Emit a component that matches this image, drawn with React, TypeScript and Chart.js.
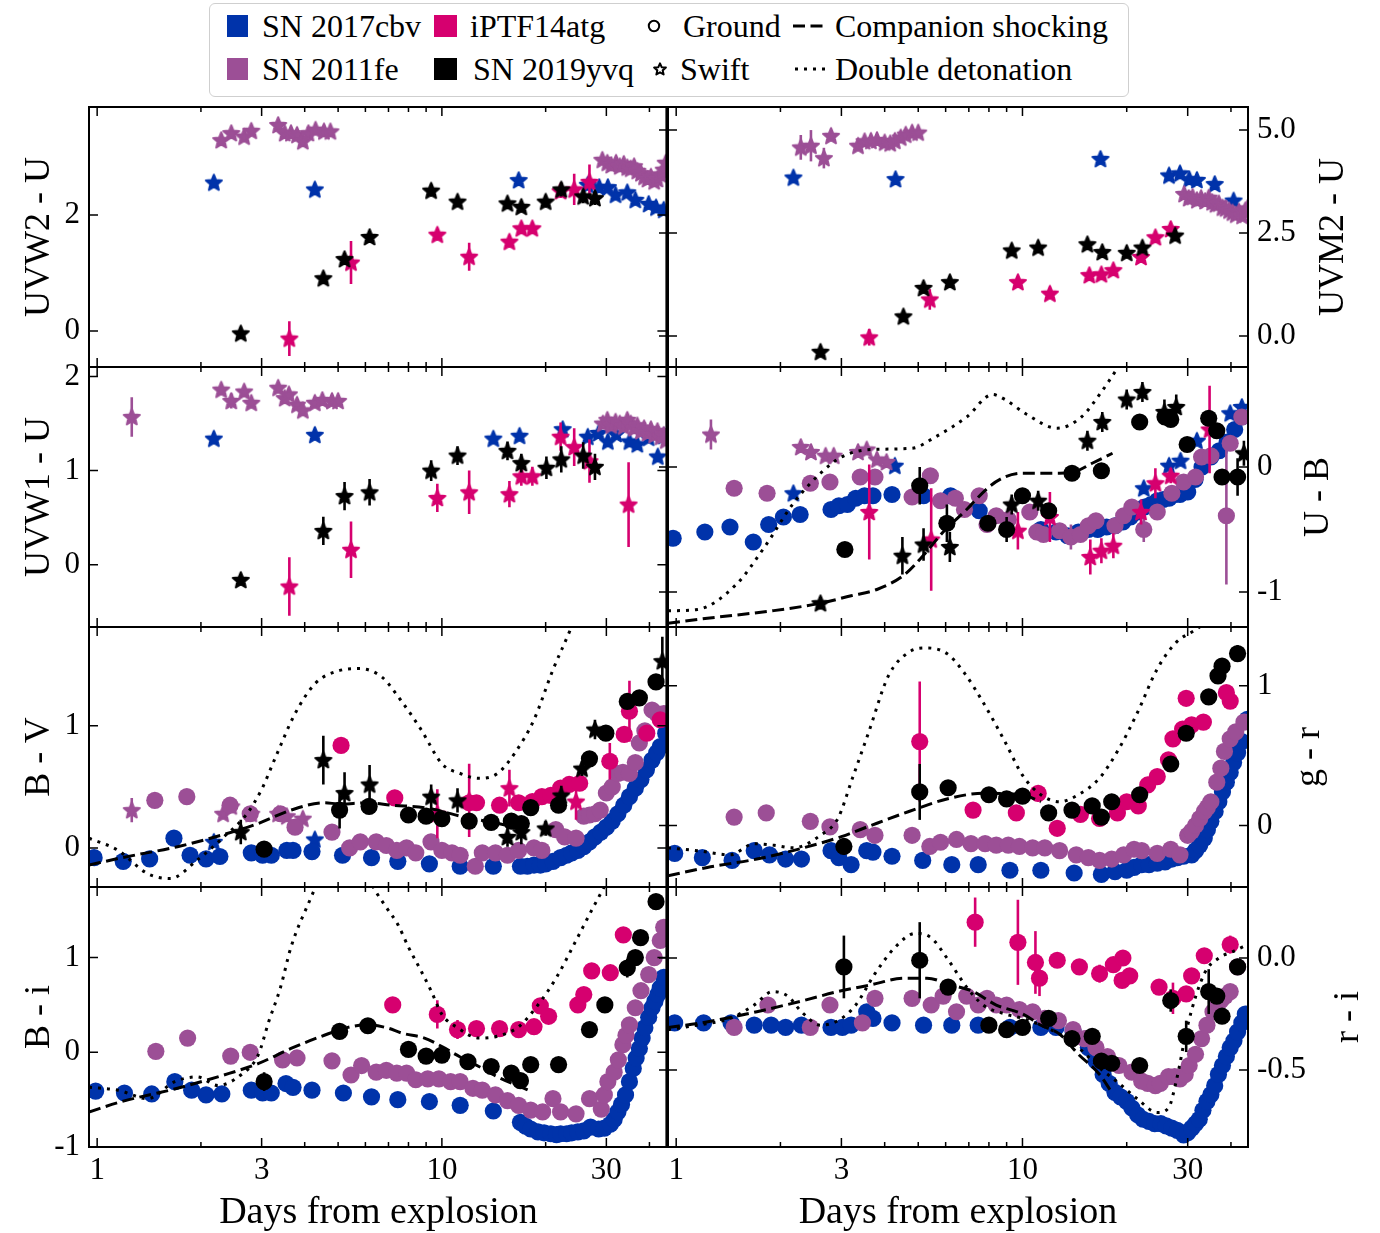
import React, { useEffect, useRef } from 'react';
import { Chart, registerables } from 'chart.js';

Chart.register(...registerables);

const FONT = '"Liberation Serif", "Times New Roman", Times, serif';
const COL_CBV = '#0033aa';
const COL_FE = '#9c4f96';
const COL_ATG = '#d6006f';
const COL_YVQ = '#000000';

const X_MIN = 0.947;
const X_MAX = 44.8;
const X_TICKS = [1, 3, 10, 30];
const X_TICK_LABELS = ['1', '3', '10', '30'];
const X_MINOR = [2, 4, 5, 6, 7, 8, 9, 20, 40];

// ---------- UVW2 - U (Swift) ----------
const W2_CBV_SW = [[2.18,2.56],[4.28,2.44],[16.7,2.6],[26.5,2.52],[28.6,2.48],[30.3,2.48],[31.9,2.35],[34.5,2.39],[36.4,2.26],[39.8,2.19],[41.8,2.13],[44,2.09]];
const W2_FE_SW = [[2.29,3.29],[2.45,3.41],[2.67,3.35],[2.8,3.45],[3.35,3.55],[3.5,3.41],[3.65,3.41],[3.8,3.38],[3.95,3.27],[4.1,3.41],[4.3,3.47],[4.55,3.44],[4.75,3.44],[29.2,2.95],[30.2,2.9],[31,2.86],[32,2.9],[32.8,2.84],[33.7,2.88],[34.5,2.82],[35.3,2.8],[36.1,2.84],[36.9,2.76],[37.8,2.72],[38.6,2.66],[39.5,2.62],[40.4,2.66],[41.3,2.58],[42.2,2.62],[43.1,2.7],[44,2.78],[44.6,2.9]];
const W2_ATG_SW = [[3.61,-0.13,0.3],[5.45,1.18,0.37],[9.7,1.66,0.1],[12,1.28,0.24],[15.7,1.54,0.1],[17,1.77,0.06],[18.3,1.77,0.06],[22.1,2.41,0.12],[24.2,2.44,0.27],[26.8,2.57,0.3]];
const W2_YVQ_SW = [[2.61,-0.04,0.05],[4.53,0.91,0.1],[5.22,1.24,0.1],[6.17,1.62,0.1],[9.31,2.42,0.1],[11.1,2.23,0.06],[15.5,2.2,0.06],[17,2.14,0.06],[20,2.23,0.1],[22.2,2.44,0.12],[25.7,2.32,0.12],[27.8,2.29,0.12]];

// ---------- UVM2 - U (Swift) ----------
const M2_CBV_SW = [[2.18,3.85],[4.3,3.81],[16.8,4.3],[26.5,3.9],[28.5,3.95],[30.3,3.81],[31.9,3.79],[35.9,3.69],[40.7,3.29]];
const M2_FE_SW = [[2.29,4.58,0.3],[2.45,4.62,0.38],[2.67,4.32,0.25],[2.8,4.86,0.1],[3.35,4.62],[3.5,4.73],[3.65,4.74],[3.8,4.76],[4.0,4.7],[4.15,4.68],[4.28,4.74],[4.45,4.82],[4.6,4.89],[4.8,4.94],[5.0,4.94],[29.3,3.45],[30.2,3.35],[31,3.38],[31.9,3.3],[32.8,3.35],[33.7,3.28],[34.5,3.36],[35.3,3.25],[36.1,3.2],[36.9,3.22],[37.8,3.12],[38.6,3.1],[39.5,3.05],[40.4,3.0],[41.3,2.95],[42.2,3.02],[43.1,2.92],[44,3.05],[44.6,3.1]];
const M2_ATG_SW = [[3.61,-0.03,0.2],[5.4,0.89,0.25],[9.7,1.31,0.08],[12,1.03,0.1],[15.6,1.48,0.06],[16.9,1.5,0.06],[18.3,1.6,0.06],[22,1.92,0.08],[24.2,2.4,0.1],[26.8,2.6,0.15]];
const M2_YVQ_SW = [[2.61,-0.38,0.05],[4.53,0.48,0.06],[5.18,1.17,0.06],[6.17,1.31,0.06],[9.31,2.08,0.06],[11.1,2.15,0.06],[15.4,2.23,0.06],[17,2.04,0.06],[20,2.02,0.06],[22.2,2.15,0.08],[27.6,2.44,0.12]];

// ---------- UVW1 - U (Swift) ----------
const W1_CBV_SW = [[2.18,1.34],[4.28,1.38],[14.1,1.34],[16.8,1.37],[22.4,1.44],[26.5,1.36],[28.5,1.4],[30.3,1.31],[32,1.39],[35,1.31],[36.9,1.28],[39.8,1.35],[42.3,1.15],[44,1.37]];
const W1_FE_SW = [[1.26,1.57,0.21],[2.29,1.86],[2.45,1.74,0.08],[2.67,1.84],[2.8,1.72],[3.35,1.88],[3.5,1.77],[3.6,1.81],[3.8,1.7],[3.95,1.64],[4.28,1.72],[4.5,1.75],[4.8,1.74],[5.0,1.74],[29.3,1.5],[30.2,1.54],[31,1.48],[31.9,1.52],[32.8,1.5],[33.7,1.47],[34.5,1.54],[35.3,1.5],[36.1,1.45],[36.9,1.48],[37.8,1.42],[38.6,1.45],[39.5,1.4],[40.4,1.44],[41.3,1.38],[42.2,1.42],[43.1,1.36],[44,1.38],[44.6,1.32]];
const W1_ATG_SW = [[3.61,-0.23,0.31],[5.45,0.16,0.3],[9.7,0.71,0.15],[12,0.77,0.23],[15.7,0.75,0.14],[17,0.94,0.1],[18.3,0.94,0.1],[22.1,1.36,0.15],[24.2,1.25,0.2],[26.8,1.1,0.23],[34.8,0.64,0.45]];
const W1_YVQ_SW = [[2.61,-0.16,0.05],[4.53,0.36,0.15],[5.22,0.73,0.15],[6.17,0.77,0.14],[9.31,1.0,0.11],[11.1,1.16,0.1],[15.5,1.21,0.1],[17,1.08,0.1],[20.1,1.03,0.12],[22.2,1.12,0.14],[25.7,1.16,0.14],[27.8,1.04,0.14]];

// ---------- U - B ----------
const UB_CBV_GR = [[0.98,-0.57],[1.21,-0.52],[1.43,-0.48],[1.67,-0.6],[1.85,-0.46],[2.04,-0.4],[2.28,-0.38],[2.8,-0.34],[2.95,-0.31],[3.12,-0.3],[3.3,-0.25],[3.5,-0.23],[3.7,-0.23],[4.2,-0.22],[5.18,-0.23],[6.2,-0.23],[7.5,-0.35],[11.3,-0.5],[12.5,-0.52],[13.5,-0.55],[14.5,-0.52],[15.5,-0.5],[16.5,-0.5],[17.5,-0.48],[18.5,-0.47],[19.5,-0.44],[20.5,-0.4],[21.5,-0.36],[22.5,-0.32],[23.5,-0.3],[24.5,-0.27],[25.5,-0.26],[26.5,-0.25],[27.5,-0.22],[28.5,-0.22],[30,-0.2],[31.5,-0.1],[33,0.0],[35,0.08],[37,0.13],[39,0.2],[41,0.3],[43,0.4]];
const UB_CBV_SW = [[2.18,-0.21],[4.28,0.01],[22.4,-0.17],[26.5,0.01],[28.6,0.05],[31.9,0.21],[39.8,0.43],[43,0.48]];
const UB_FE_GR = [[1.47,-0.17,0.05],[1.83,-0.21],[2.44,-0.13],[2.78,-0.12],[3.4,-0.08],[3.75,-0.08],[4.8,-0.24],[5.42,-0.07],[5.8,-0.27],[6.4,-0.25],[6.8,-0.34],[7.5,-0.23],[7.9,-0.46],[8.4,-0.39],[9.1,-0.42],[10.5,-0.36],[11,-0.52],[11.5,-0.54],[12.8,-0.51],[13.8,-0.56,0.1],[14.7,-0.54],[15.5,-0.47],[16.3,-0.43],[18.5,-0.47],[19.6,-0.39],[20.7,-0.32],[22.4,-0.5,0.1],[24.5,-0.36],[27,-0.21],[29.2,-0.12],[31.6,-0.08],[32.9,0.08],[35,0.09],[38.8,-0.39,0.55],[39.8,0.19],[43,0.4]];
const UB_FE_SW = [[1.26,0.26,0.12],[2.29,0.16],[2.45,0.12],[2.7,0.09],[2.85,0.09],[3.35,0.12],[3.55,0.14],[3.8,0.06],[4.05,0.04]];
const UB_ATG_SW = [[3.61,-0.36,0.38],[5.45,-0.58,0.41],[9.7,-0.51,0.15],[12,-0.4,0.2],[15.7,-0.72,0.14],[16.9,-0.67,0.1],[18.3,-0.63,0.1],[22,-0.36,0.1],[24.2,-0.13,0.12],[26.8,-0.07,0.06],[34.7,0.3,0.35]];
const UB_YVQ_GR = [[3.07,-0.66],[5.05,-0.15,0.15],[6.05,-0.45,0.15],[7.95,-0.45],[9.0,-0.5,0.1],[10,-0.23],[11.9,-0.35],[13.9,-0.05],[16.9,-0.03],[21.8,0.36],[25.8,0.4],[26.8,0.38],[29.9,0.18],[34.5,0.39],[36.4,0.29],[37.7,-0.08],[41.8,-0.08,0.15]];
const UB_YVQ_SW = [[2.61,-1.09,0.05],[4.5,-0.71,0.15],[5.18,-0.62,0.13],[6.17,-0.64,0.12],[9.31,-0.3,0.08],[11.1,-0.27,0.08],[15.4,0.21,0.08],[17,0.36,0.08],[20,0.54,0.08],[22.2,0.6,0.08],[25.7,0.44,0.1],[27.8,0.48,0.1],[43.6,0.11,0.1]];
const UB_COMPANION = [[0.947,-1.25],[1.23,-1.21],[1.9,-1.15],[2.61,-1.09],[3.2,-1.03],[3.8,-0.98],[4.57,-0.86],[5.2,-0.7],[5.9,-0.52],[6.9,-0.34],[8.0,-0.16],[8.9,-0.08],[10,-0.05],[11.3,-0.05],[12.8,-0.05],[14.4,-0.03],[15.9,0.03],[18.2,0.11]];
const UB_DOUBLE = [[0.947,-1.15],[1.15,-1.14],[1.49,-0.94],[1.8,-0.64],[2.18,-0.29],[2.61,-0.05],[3.0,0.08],[3.65,0.14],[4.8,0.15],[5.6,0.24],[6.9,0.4],[8.2,0.58],[8.9,0.54],[10.3,0.42],[12.6,0.31],[14.8,0.4],[16.8,0.59],[18.8,0.79],[21,1.0]];

// ---------- B - V ----------
const BV_CBV_GR = [[0.98,-0.08],[1.19,-0.11],[1.42,-0.09],[1.67,0.08],[1.86,-0.06],[2.07,-0.09],[2.27,-0.07],[2.8,-0.04],[3.02,-0.06],[3.2,-0.06],[3.55,-0.02],[3.7,-0.02],[4.2,-0.03],[5.15,-0.06],[6.25,-0.08],[7.45,-0.11],[9.2,-0.13],[11.3,-0.15],[14.1,-0.15],[16.9,-0.15],[17.7,-0.15],[18.5,-0.14],[19.3,-0.14],[20,-0.13],[21,-0.11],[22.1,-0.08],[23,-0.06],[23.8,-0.04],[24.8,-0.02],[25.8,0.01],[26.8,0.05],[27.8,0.09],[28.9,0.13],[30,0.17],[31.2,0.22],[32.4,0.28],[33.7,0.35],[35,0.42],[36.4,0.49],[37.8,0.56],[39.2,0.64],[40.7,0.72],[42,0.78],[43,0.83],[44.6,0.94]];
const BV_CBV_SW = [[2.18,0.05],[4.28,0.07]];
const BV_FE_GR = [[1.47,0.39],[1.82,0.42],[2.43,0.35],[2.78,0.28],[3.4,0.28],[3.75,0.17],[4.8,0.13],[5.4,0.0],[5.8,0.05],[6.45,0.05],[6.9,0.02],[7.4,-0.02],[7.9,0.0],[8.4,-0.04],[9.3,0.05],[10,-0.02],[10.7,-0.04],[11.3,-0.06],[12.5,-0.15],[13.1,-0.04],[14.3,-0.04],[15.5,-0.06],[16.7,-0.02],[18.5,0.0],[19.5,-0.02],[21.4,0.15],[22.7,0.09],[24.5,0.08],[25.8,0.26],[26.8,0.27],[27.8,0.28],[28.8,0.31],[30,0.45],[31.2,0.5],[32.4,0.61],[33.5,0.62],[35,0.61],[36.4,0.7],[37.4,0.86],[38.8,0.96],[40.7,1.13],[42,1.1],[44,1.1]];
const BV_FE_SW = [[1.26,0.31,0.1],[2.32,0.28],[2.45,0.34],[2.8,0.28],[3.35,0.28],[3.55,0.26],[3.95,0.24]];
const BV_ATG_GR = [[5.1,0.84],[7.3,0.41],[12,0.37],[12.6,0.37],[14.7,0.35],[16.7,0.37],[18.3,0.38],[19.5,0.42],[20.7,0.43],[22.1,0.49],[23.4,0.52],[25.1,0.53],[30.7,0.71,0.15],[33.8,0.93],[35,1.12,0.25],[39.3,0.94],[43,1.05]];
const BV_ATG_SW = [[9.7,0.28,0.2],[12,0.39,0.3],[15.7,0.49,0.15],[24.5,0.38,0.15]];
const BV_YVQ_GR = [[3.05,-0.01],[5.05,0.31,0.15],[6.15,0.34],[8.0,0.27],[9.0,0.26],[10,0.24],[12,0.22],[13.9,0.21],[15.9,0.22],[17,0.2],[18.1,0.33],[21.8,0.35],[26.8,0.73],[29.9,0.94],[34.5,1.2],[37.4,1.23],[41.8,1.36]];
const BV_YVQ_SW = [[2.61,0.13,0.1],[4.53,0.72,0.2],[5.22,0.45,0.17],[6.17,0.52,0.16],[9.31,0.42,0.1],[11.1,0.39,0.1],[15.5,0.09,0.08],[17,0.13,0.1],[20,0.16,0.06],[22.2,0.43,0.08],[25.5,0.65,0.06],[27.8,0.97,0.08],[43.6,1.53,0.2]];
const BV_COMPANION = [[0.947,-0.14],[1.18,-0.08],[1.71,0.01],[2.33,0.11],[2.93,0.2],[3.65,0.31],[4.56,0.37],[5.05,0.36],[6.05,0.37],[7.2,0.35],[8.9,0.33],[10,0.3],[11.3,0.26],[14,0.21],[16.3,0.17]];
const BV_DOUBLE = [[0.947,0.08],[1.15,-0.02],[1.4,-0.21],[1.63,-0.25],[1.95,-0.1],[2.33,0.09],[2.72,0.28],[3.0,0.48],[3.3,0.75],[3.75,1.1],[4.3,1.35],[5.0,1.45],[5.75,1.47],[6.7,1.4],[7.6,1.21],[8.7,0.97],[10,0.69],[11.3,0.61],[12.8,0.57],[14.5,0.61],[16.3,0.78],[18.5,1.05],[21,1.46],[23.6,1.79],[26,2.1]];

// ---------- g - r ----------
const GR_CBV_GR = [[0.99,-0.2],[1.19,-0.23],[1.45,-0.25],[1.68,-0.18],[1.86,-0.21],[2.07,-0.24],[2.3,-0.24],[2.8,-0.18],[2.95,-0.23],[3.2,-0.28],[3.55,-0.18],[3.7,-0.19],[4.2,-0.22],[5.15,-0.25],[6.25,-0.28],[7.45,-0.28],[9.2,-0.32],[11.3,-0.32],[14.1,-0.34],[16.9,-0.35],[18.5,-0.33],[20,-0.32],[21,-0.3],[22.1,-0.28],[23.2,-0.28],[24.5,-0.27],[25.8,-0.26],[27,-0.24],[28,-0.23],[29.2,-0.22],[30.8,-0.21],[31.6,-0.18],[32.5,-0.14],[33.5,-0.09],[34.2,-0.03],[35,0.03],[36,0.1],[36.9,0.17],[37.8,0.24],[38.8,0.31],[39.8,0.38],[40.7,0.45],[41.8,0.52],[43,0.6],[44.6,0.76]];
const GR_FE_GR = [[1.47,0.06],[1.82,0.09],[2.44,0.03],[2.78,-0.01],[3.4,-0.03],[3.75,-0.07],[4.8,-0.07],[5.4,-0.15],[5.8,-0.12],[6.45,-0.1],[7.1,-0.13],[7.8,-0.13],[8.4,-0.14],[9.1,-0.14],[9.8,-0.15],[10.7,-0.16],[11.6,-0.16],[12.8,-0.18],[14.3,-0.21],[15.5,-0.23],[16.7,-0.25],[18.1,-0.24],[19.6,-0.21],[21,-0.17],[22.1,-0.18],[24.5,-0.2],[26.8,-0.17],[28.5,-0.21],[30,-0.07],[30.8,-0.04],[31.6,0.0],[32.5,0.05],[33.5,0.1],[34.2,0.13],[35,0.17],[36.4,0.31],[37.4,0.41],[38.3,0.53],[39.8,0.62],[41.3,0.67],[43.6,0.74]];
const GR_ATG_GR = [[5.05,0.6,0.43],[7.2,0.11],[9.6,0.09],[11.1,0.23,0.06],[12.6,-0.02],[14.7,0.08],[16.7,0.05],[18.8,0.09],[20,0.17],[21.6,0.14],[23,0.29],[24.5,0.35],[26.4,0.47],[27.2,0.62],[29,0.69],[29.7,0.91],[30.8,0.72],[33.3,0.74],[38.8,0.95],[39.8,0.89]];
const GR_YVQ_GR = [[3.05,-0.15,0.06],[5.05,0.24,0.2],[6.1,0.27],[8.0,0.22],[9.0,0.19],[10,0.21],[11.9,0.09],[13.9,0.11],[15.9,0.14],[16.9,0.06],[18.1,0.17],[21.8,0.22],[26.8,0.44],[29.7,0.66],[34.5,0.92],[36.7,1.07],[37.7,1.14],[41.8,1.23,0.06]];
const GR_COMPANION = [[0.947,-0.36],[1.23,-0.3],[1.71,-0.24],[2.33,-0.16],[3.0,-0.08],[3.65,0.0],[4.7,0.1],[6.05,0.19],[7.7,0.23],[10,0.22],[11.3,0.17]];
const GR_DOUBLE = [[0.947,-0.16],[1.15,-0.18],[1.43,-0.21],[1.68,-0.13],[1.9,-0.14],[2.18,-0.16],[2.61,-0.07],[2.93,0.05],[3.23,0.34],[3.6,0.67],[4.1,1.07],[4.7,1.24],[5.3,1.27],[6.05,1.23],[6.8,1.09],[7.7,0.88],[8.9,0.6],[10,0.36],[11.3,0.22],[12.8,0.17],[14.5,0.22],[16.7,0.34],[19,0.55],[21.5,0.81],[24.5,1.12],[27.8,1.31],[31.6,1.4],[36,1.5]];

// ---------- B - i ----------
const BI_CBV_GR = [[0.99,-0.41],[1.2,-0.43],[1.44,-0.44],[1.68,-0.31],[1.88,-0.4],[2.07,-0.45],[2.3,-0.44],[2.8,-0.4],[3.02,-0.43],[3.2,-0.43],[3.53,-0.33],[3.7,-0.37],[4.2,-0.4],[5.18,-0.43],[6.25,-0.47],[7.45,-0.5],[9.2,-0.52],[11.3,-0.56],[14.1,-0.62],[16.9,-0.74],[17.5,-0.78],[18.1,-0.81],[19,-0.84],[19.8,-0.85],[20.7,-0.86],[21.5,-0.87],[22.1,-0.86],[23,-0.86],[23.8,-0.85],[24.8,-0.84],[25.8,-0.83],[27,-0.79],[28.5,-0.81],[29.6,-0.8],[30.8,-0.76],[31.6,-0.71],[32.4,-0.63],[33.2,-0.55],[34.1,-0.45],[35,-0.31],[35.9,-0.17],[36.6,-0.06],[37.4,0.04],[38.1,0.15],[38.8,0.26],[39.8,0.37],[40.7,0.47],[41.5,0.54],[42.3,0.61],[43,0.68],[44,0.79]];
const BI_FE_GR = [[1.48,0.01],[1.83,0.15],[2.44,-0.04],[2.78,0.0],[3.45,-0.08],[3.8,-0.06],[4.8,-0.09],[5.45,-0.24],[5.85,-0.14],[6.45,-0.21],[6.9,-0.19],[7.4,-0.22],[7.9,-0.22],[8.4,-0.29],[9.1,-0.28],[9.8,-0.28],[10.6,-0.31],[11.3,-0.31],[12.3,-0.38],[13.1,-0.4],[14.3,-0.45],[15.5,-0.51],[16.7,-0.56],[18.1,-0.61],[19.6,-0.63],[21,-0.49],[22.1,-0.63],[24.5,-0.65],[26.8,-0.49],[29,-0.6],[29.6,-0.45],[30.3,-0.31],[31.6,-0.21],[32.5,-0.08],[33.5,0.08],[34.2,0.18],[35,0.29],[36.4,0.47],[37.8,0.65],[39.8,0.82],[41.3,1.0],[43,1.18],[44,1.32]];
const BI_ATG_GR = [[7.2,0.5],[9.7,0.4,0.15],[11.1,0.24,0.1],[12.6,0.25],[14.7,0.25],[16.7,0.24],[18.5,0.27],[19.3,0.49],[20.4,0.38],[24.8,0.5],[25.8,0.61],[27.2,0.86],[30.8,0.84],[33.6,1.24]];
const BI_YVQ_GR = [[3.05,-0.31,0.1],[5.05,0.22],[6.1,0.28],[8.0,0.03],[9.0,-0.04],[10,-0.03],[11.9,-0.1],[13.9,-0.15],[15.9,-0.22],[16.9,-0.3],[18.1,-0.13],[21.8,-0.13],[26.8,0.24],[29.7,0.5],[34.5,0.89,0.1],[36.4,1.0],[37.7,1.21],[41.8,1.59]];
const BI_COMPANION = [[0.947,-0.63],[1.18,-0.52],[1.71,-0.38],[2.33,-0.24],[2.93,-0.12],[3.65,0.04],[4.56,0.18],[5.3,0.26],[6.05,0.29],[6.9,0.26],[7.7,0.2],[8.9,0.15],[10,0.06],[11.3,-0.05],[12.8,-0.15],[14.5,-0.26],[17.8,-0.4]];
const BI_DOUBLE = [[0.947,-0.37],[1.15,-0.4],[1.4,-0.49],[1.68,-0.31],[1.95,-0.26],[2.24,-0.35],[2.61,-0.24],[2.93,-0.03],[3.15,0.33],[3.4,0.68],[3.65,1.11],[4.1,1.57],[4.6,1.95],[5.3,2.1],[6.0,1.9],[6.4,1.71],[6.9,1.53],[7.45,1.35],[8.0,1.11],[8.7,0.86],[9.3,0.65],[10,0.4],[11.1,0.26],[12.8,0.15],[14.5,0.17],[16.7,0.27],[19,0.5],[21.5,0.79],[24.5,1.18],[27.2,1.5],[29.5,1.74],[32,2.0]];

// ---------- r - i ----------
const RI_CBV_GR = [[0.99,-0.29],[1.2,-0.29],[1.44,-0.29],[1.68,-0.3],[1.88,-0.3],[2.07,-0.31],[2.3,-0.3],[2.8,-0.31],[3.02,-0.31],[3.2,-0.3],[3.55,-0.24],[3.7,-0.27],[4.2,-0.29],[5.18,-0.3],[6.25,-0.3],[7.45,-0.3],[9.2,-0.31],[11.3,-0.31],[12.5,-0.31],[14,-0.33],[15.5,-0.4],[16.3,-0.46],[17.1,-0.52],[17.8,-0.56],[18.5,-0.6],[19.2,-0.62],[20,-0.64],[20.7,-0.67],[21.5,-0.7],[22.3,-0.72],[23.2,-0.73],[24.1,-0.74],[25.1,-0.74],[26,-0.75],[27,-0.76],[28,-0.77],[29.2,-0.79],[30,-0.78],[30.8,-0.76],[31.6,-0.74],[32.4,-0.72],[33.2,-0.68],[34.1,-0.64],[35,-0.61],[35.9,-0.57],[36.8,-0.52],[37.8,-0.48],[38.8,-0.44],[39.8,-0.4],[40.8,-0.37],[41.8,-0.33],[43,-0.29],[44,-0.25]];
const RI_FE_GR = [[1.47,-0.31],[1.84,-0.21],[2.44,-0.31],[2.78,-0.21],[3.45,-0.29],[3.75,-0.18],[4.8,-0.18],[5.45,-0.21],[5.9,-0.17],[6.45,-0.24],[6.9,-0.17],[7.45,-0.21],[7.9,-0.18],[8.4,-0.21],[9.0,-0.21],[9.8,-0.23],[10.7,-0.24],[11.6,-0.27],[12.7,-0.28],[14,-0.32],[15.1,-0.36],[16.3,-0.4],[17.6,-0.44],[19,-0.48],[20.7,-0.51],[22.1,-0.55],[23,-0.56],[24.2,-0.57],[25,-0.56],[26.4,-0.53],[27.5,-0.53],[28.5,-0.54],[29.5,-0.52],[30.3,-0.48],[31.6,-0.43],[32.9,-0.36],[34.1,-0.3],[35.5,-0.24],[36.4,-0.22],[37.4,-0.19],[38.5,-0.17],[39.8,-0.15],[41.8,-0.04]];
const RI_ATG_GR = [[7.3,0.16,0.11],[9.7,0.07,0.19],[10.9,-0.02,0.14],[11.2,-0.09,0.08],[12.6,-0.01,0.03],[14.6,-0.04,0.03],[16.7,-0.07,0.04],[18.3,-0.03],[19.4,-0.1],[19.5,0.0],[20.4,-0.08],[24.8,-0.13],[27.2,-0.18,0.07],[29.7,-0.16],[30.8,-0.08],[33.5,0.01],[39.8,0.06,0.04]];
const RI_YVQ_GR = [[3.05,-0.04,0.14],[5.05,-0.01,0.17],[6.1,-0.13],[8.0,-0.3],[9.0,-0.32],[10,-0.31],[11.9,-0.27],[13.9,-0.36],[15.9,-0.35],[16.9,-0.46],[18.1,-0.47],[21.8,-0.48],[26.8,-0.19,0.05],[29.7,-0.35,0.07],[34.5,-0.15,0.1],[36.4,-0.17],[37.7,-0.26],[41.8,-0.04]];
const RI_COMPANION = [[0.947,-0.31],[1.18,-0.29],[1.71,-0.24],[2.33,-0.19],[2.93,-0.15],[3.65,-0.12],[4.56,-0.09],[5.3,-0.09],[6.2,-0.12],[7.2,-0.15],[8.4,-0.21],[10,-0.25],[11.3,-0.3],[12.8,-0.34],[14.5,-0.43],[16.7,-0.52],[18.1,-0.6]];
const RI_DOUBLE = [[0.947,-0.32],[1.15,-0.3],[1.43,-0.27],[1.68,-0.21],[1.9,-0.15],[2.1,-0.17],[2.3,-0.24],[2.61,-0.3],[2.93,-0.28],[3.3,-0.21],[3.75,-0.07],[4.3,0.05],[4.9,0.11],[5.45,0.09],[6.05,0.0],[6.9,-0.13],[7.7,-0.21],[8.9,-0.25],[10,-0.27],[11.3,-0.3],[12.8,-0.34],[14.5,-0.4],[16.7,-0.49],[19,-0.56],[21.5,-0.63],[24.5,-0.69],[26.4,-0.67],[27.8,-0.55],[30,-0.3],[33.5,-0.07],[36.9,0.0],[40.7,0.03],[44.6,0.06]];

type Kind = 'ground' | 'swift' | 'companion' | 'double';
type SeriesDef = [number[][], string, Kind];

const W2_TICKS = [0, 2]; const W2_LABELS = ['0', '2'];
const M2_TICKS = [0, 2.5, 5]; const M2_LABELS = ['0.0', '2.5', '5.0'];
const W1_TICKS = [0, 1, 2]; const W1_LABELS = ['0', '1', '2'];
const UB_TICKS = [-1, 0]; const UB_LABELS = ['-1', '0'];
const BV_TICKS = [0, 1]; const BV_LABELS = ['0', '1'];
const GR_TICKS = [0, 1]; const GR_LABELS = ['0', '1'];
const BI_TICKS = [-1, 0, 1]; const BI_LABELS = ['-1', '0', '1'];
const RI_TICKS = [-0.5, 0]; const RI_LABELS = ['-0.5', '0.0'];

interface PanelDef {
  key: string; row: number; col: number; yMin: number; yMax: number;
  yTicks: number[]; yLabels: string[]; title: string; titleX: number;
  series: SeriesDef[];
}

const PANELS: PanelDef[] = [
  { key: 'w2', row: 0, col: 0, yMin: -0.62, yMax: 3.86, yTicks: W2_TICKS, yLabels: W2_LABELS, title: 'UVW2 - U', titleX: 37,
    series: [[W2_CBV_SW, COL_CBV, 'swift'], [W2_FE_SW, COL_FE, 'swift'], [W2_ATG_SW, COL_ATG, 'swift'], [W2_YVQ_SW, COL_YVQ, 'swift']] },
  { key: 'm2', row: 0, col: 1, yMin: -0.75, yMax: 5.56, yTicks: M2_TICKS, yLabels: M2_LABELS, title: 'UVM2 - U', titleX: 1331,
    series: [[M2_CBV_SW, COL_CBV, 'swift'], [M2_FE_SW, COL_FE, 'swift'], [M2_ATG_SW, COL_ATG, 'swift'], [M2_YVQ_SW, COL_YVQ, 'swift']] },
  { key: 'w1', row: 1, col: 0, yMin: -0.66, yMax: 2.1, yTicks: W1_TICKS, yLabels: W1_LABELS, title: 'UVW1 - U', titleX: 37,
    series: [[W1_CBV_SW, COL_CBV, 'swift'], [W1_FE_SW, COL_FE, 'swift'], [W1_ATG_SW, COL_ATG, 'swift'], [W1_YVQ_SW, COL_YVQ, 'swift']] },
  { key: 'ub', row: 1, col: 1, yMin: -1.28, yMax: 0.8, yTicks: UB_TICKS, yLabels: UB_LABELS, title: 'U - B', titleX: 1316,
    series: [[UB_CBV_GR, COL_CBV, 'ground'], [UB_CBV_SW, COL_CBV, 'swift'], [UB_FE_GR, COL_FE, 'ground'], [UB_FE_SW, COL_FE, 'swift'],
      [UB_ATG_SW, COL_ATG, 'swift'], [UB_YVQ_GR, COL_YVQ, 'ground'], [UB_YVQ_SW, COL_YVQ, 'swift'],
      [UB_COMPANION, '#000', 'companion'], [UB_DOUBLE, '#000', 'double']] },
  { key: 'bv', row: 2, col: 0, yMin: -0.32, yMax: 1.81, yTicks: BV_TICKS, yLabels: BV_LABELS, title: 'B - V', titleX: 37,
    series: [[BV_CBV_GR, COL_CBV, 'ground'], [BV_CBV_SW, COL_CBV, 'swift'], [BV_FE_GR, COL_FE, 'ground'], [BV_FE_SW, COL_FE, 'swift'],
      [BV_ATG_GR, COL_ATG, 'ground'], [BV_ATG_SW, COL_ATG, 'swift'], [BV_YVQ_GR, COL_YVQ, 'ground'], [BV_YVQ_SW, COL_YVQ, 'swift'],
      [BV_COMPANION, '#000', 'companion'], [BV_DOUBLE, '#000', 'double']] },
  { key: 'gr', row: 2, col: 1, yMin: -0.44, yMax: 1.42, yTicks: GR_TICKS, yLabels: GR_LABELS, title: 'g - r', titleX: 1307,
    series: [[GR_CBV_GR, COL_CBV, 'ground'], [GR_FE_GR, COL_FE, 'ground'], [GR_ATG_GR, COL_ATG, 'ground'], [GR_YVQ_GR, COL_YVQ, 'ground'],
      [GR_COMPANION, '#000', 'companion'], [GR_DOUBLE, '#000', 'double']] },
  { key: 'bi', row: 3, col: 0, yMin: -1.0, yMax: 1.745, yTicks: BI_TICKS, yLabels: BI_LABELS, title: 'B - i', titleX: 37,
    series: [[BI_CBV_GR, COL_CBV, 'ground'], [BI_FE_GR, COL_FE, 'ground'], [BI_ATG_GR, COL_ATG, 'ground'], [BI_YVQ_GR, COL_YVQ, 'ground'],
      [BI_COMPANION, '#000', 'companion'], [BI_DOUBLE, '#000', 'double']] },
  { key: 'ri', row: 3, col: 1, yMin: -0.844, yMax: 0.317, yTicks: RI_TICKS, yLabels: RI_LABELS, title: 'r - i', titleX: 1346,
    series: [[RI_CBV_GR, COL_CBV, 'ground'], [RI_FE_GR, COL_FE, 'ground'], [RI_ATG_GR, COL_ATG, 'ground'], [RI_YVQ_GR, COL_YVQ, 'ground'],
      [RI_COMPANION, '#000', 'companion'], [RI_DOUBLE, '#000', 'double']] },
];

// layout (page pixels)
const ROW_TOP = 107;
const ROW_H = 260;
const LEFT_X = 89;
const MID_X = 668;
const RIGHT_X = 1248;
const PAD = 12;
const XAXIS_H = 50;

const DRAW_ORDER: Record<string, number> = { [COL_CBV]: 4, [COL_FE]: 3, [COL_ATG]: 2, [COL_YVQ]: 1 };

const starCache: Record<string, HTMLCanvasElement> = {};
function starImg(color: string): HTMLCanvasElement {
  if (starCache[color]) return starCache[color];
  const c = document.createElement('canvas');
  c.width = 22; c.height = 22;
  const g = c.getContext('2d') as CanvasRenderingContext2D;
  g.beginPath();
  for (let i = 0; i < 10; i++) {
    const r = i % 2 === 0 ? 8.4 : 3.8;
    const ang = -Math.PI / 2 + (i * Math.PI) / 5;
    const px = 11 + r * Math.cos(ang);
    const py = 11.6 + r * Math.sin(ang);
    if (i === 0) g.moveTo(px, py); else g.lineTo(px, py);
  }
  g.closePath();
  g.fillStyle = color; g.fill();
  g.lineJoin = 'round'; g.lineWidth = 2; g.strokeStyle = color; g.stroke();
  starCache[color] = c;
  return c;
}

function makeDataset(s: SeriesDef): any {
  const [arr, color, kind] = s;
  const pts = arr.map((p) => ({ x: p[0], y: p[1] }));
  if (kind === 'companion' || kind === 'double') {
    return {
      type: 'line', data: pts, borderColor: '#000', borderWidth: 3,
      borderDash: kind === 'companion' ? [12, 5.5] : [3, 6],
      borderCapStyle: 'butt', pointRadius: 0, fill: false,
      cubicInterpolationMode: 'monotone', order: 0, clip: 0,
    };
  }
  return {
    type: 'scatter', data: pts, errs: arr.map((p) => p[2] || 0), errColor: color,
    pointStyle: kind === 'swift' ? starImg(color) : 'circle',
    pointRadius: 8.6, pointHoverRadius: 8.6, backgroundColor: color, borderColor: color, borderWidth: 0,
    order: DRAW_ORDER[color] ?? 1, clip: 0,
  };
}

function Panel({ p }: { p: PanelDef }) {
  const ref = useRef<HTMLCanvasElement>(null);
  const left = p.col === 0;
  const bottom = p.row === 3;
  const canvasLeft = left ? 0 : 655;
  const canvasW = left ? 675 : 725;
  const canvasTop = ROW_TOP + ROW_H * p.row - PAD;
  const canvasH = PAD + ROW_H + (bottom ? XAXIS_H : PAD);

  useEffect(() => {
    if (!ref.current) return;
    const datasets = p.series.map(makeDataset);
    const errPlugin = {
      id: 'errbars',
      beforeDatasetDraw(chart: any, args: any) {
        const ds = chart.data.datasets[args.index];
        if (!ds.errs) return;
        const { ctx, chartArea: a } = chart;
        const xs = chart.scales.x; const ys = chart.scales.y;
        ctx.save();
        ctx.beginPath(); ctx.rect(a.left, a.top, a.right - a.left, a.bottom - a.top); ctx.clip();
        ctx.strokeStyle = ds.errColor; ctx.lineWidth = 2.6; ctx.lineCap = 'butt';
        ds.data.forEach((pt: any, i: number) => {
          const e = ds.errs[i];
          if (!e) return;
          const px = xs.getPixelForValue(pt.x);
          ctx.beginPath();
          ctx.moveTo(px, ys.getPixelForValue(pt.y - e));
          ctx.lineTo(px, ys.getPixelForValue(pt.y + e));
          ctx.stroke();
        });
        ctx.restore();
      },
    };
    const framePlugin = {
      id: 'frame',
      afterDatasetsDraw(chart: any) {
        const { ctx, chartArea: a } = chart;
        const xs = chart.scales.x; const ys = chart.scales.y;
        ctx.save();
        ctx.strokeStyle = '#000'; ctx.lineWidth = 1.5;
        ctx.beginPath();
        X_TICKS.forEach((v) => {
          const px = xs.getPixelForValue(v);
          ctx.moveTo(px, a.bottom); ctx.lineTo(px, a.bottom - 9);
          ctx.moveTo(px, a.top); ctx.lineTo(px, a.top + 9);
        });
        X_MINOR.forEach((v) => {
          const px = xs.getPixelForValue(v);
          ctx.moveTo(px, a.bottom); ctx.lineTo(px, a.bottom - 5);
          ctx.moveTo(px, a.top); ctx.lineTo(px, a.top + 5);
        });
        p.yTicks.forEach((v) => {
          const py = ys.getPixelForValue(v);
          ctx.moveTo(a.left, py); ctx.lineTo(a.left + 9, py);
          ctx.moveTo(a.right, py); ctx.lineTo(a.right - 9, py);
          if (!left) { ctx.moveTo(a.left - 9, py); ctx.lineTo(a.left, py); }
        });
        ctx.stroke();
        ctx.lineWidth = 2;
        ctx.strokeRect(a.left, a.top, a.right - a.left, a.bottom - a.top);
        ctx.restore();
      },
    };
    const chart = new Chart(ref.current, {
      type: 'scatter',
      data: { datasets },
      options: {
        responsive: false, maintainAspectRatio: false, animation: false, devicePixelRatio: 1,
        events: [],
        layout: { padding: { top: PAD, bottom: bottom ? 0 : PAD, left: left ? 0 : MID_X - canvasLeft, right: left ? canvasLeft + canvasW - MID_X : 0 } },
        plugins: { legend: { display: false }, tooltip: { enabled: false } },
        scales: {
          x: {
            type: 'logarithmic', min: X_MIN, max: X_MAX, bounds: 'data', display: bottom,
            grid: { display: false, drawTicks: false }, border: { display: false },
            afterBuildTicks: (s: any) => { s.ticks = X_TICKS.map((v) => ({ value: v })); },
            afterFit: (s: any) => { s.height = bottom ? XAXIS_H : 0; s.paddingLeft = 0; s.paddingRight = 0; s.paddingTop = 0; s.paddingBottom = 0; },
            ticks: {
              autoSkip: false, maxRotation: 0, minRotation: 0, padding: 5, color: '#000',
              font: { family: FONT, size: 31 },
              callback: (_v: any, i: number) => X_TICK_LABELS[i],
            },
          },
          y: {
            type: 'linear', position: left ? 'left' : 'right', min: p.yMin, max: p.yMax, bounds: 'data',
            grid: { display: false, drawTicks: false }, border: { display: false },
            afterBuildTicks: (s: any) => { s.ticks = p.yTicks.map((v) => ({ value: v })); },
            afterFit: (s: any) => { s.width = left ? LEFT_X : (canvasLeft + canvasW) - RIGHT_X; s.paddingTop = 0; s.paddingBottom = 0; s.paddingLeft = 0; s.paddingRight = 0; },
            ticks: {
              autoSkip: false, padding: 9, color: '#000',
              font: { family: FONT, size: 31 },
              callback: (_v: any, i: number) => p.yLabels[i],
            },
          },
        },
      } as any,
      plugins: [errPlugin, framePlugin],
    } as any);
    return () => chart.destroy();
  }, []);

  return (
    <canvas ref={ref} width={canvasW} height={canvasH}
      style={{ position: 'absolute', left: canvasLeft, top: canvasTop, width: canvasW, height: canvasH }} />
  );
}

function YTitle({ p }: { p: PanelDef }) {
  const cy = ROW_TOP + ROW_H * p.row + ROW_H / 2;
  return (
    <div style={{
      position: 'absolute', left: p.titleX, top: cy, transform: 'translate(-50%, -50%) rotate(-90deg)',
      fontSize: 36, lineHeight: '36px', whiteSpace: 'nowrap', color: '#000',
    }}>{p.title}</div>
  );
}

const LEGEND_ROW1 = ['SN 2017cbv', 'iPTF14atg', 'Ground', 'Companion shocking'];
const LEGEND_ROW2 = ['SN 2011fe', 'SN 2019yvq', 'Swift', 'Double detonation'];

function Legend() {
  const bx = 209; const by = 3;
  const txt = (x: number, cy: number, s: string) => (
    <div key={s} style={{ position: 'absolute', left: x - bx, top: cy - by - 16, fontSize: 32, lineHeight: '32px', whiteSpace: 'nowrap', color: '#000' }}>{s}</div>
  );
  const sq = (x: number, y: number, w: number, color: string, k: string) => (
    <div key={k} style={{ position: 'absolute', left: x - bx, top: y - by, width: w, height: 22, background: color }} />
  );
  const r1 = 25; const r2 = 68;
  const starPts: string[] = [];
  for (let i = 0; i < 10; i++) {
    const r = i % 2 === 0 ? 6.2 : 2.8;
    const a = -Math.PI / 2 + (i * Math.PI) / 5;
    starPts.push(`${(8 + r * Math.cos(a)).toFixed(2)},${(8.5 + r * Math.sin(a)).toFixed(2)}`);
  }
  return (
    <div style={{ position: 'absolute', left: bx, top: by, width: 920, height: 94, border: '1.5px solid #cfcfcf', borderRadius: 6, background: '#fff', boxSizing: 'border-box' }}>
      {sq(226, 14, 21, COL_CBV, 'a')}
      {sq(433, 14, 23, COL_ATG, 'b')}
      {sq(226, 57, 21, COL_FE, 'c')}
      {sq(433, 57, 23, COL_YVQ, 'd')}
      {txt(261, r1, LEGEND_ROW1[0])}
      {txt(469, r1, LEGEND_ROW1[1])}
      {txt(682, r1, LEGEND_ROW1[2])}
      {txt(834, r1, LEGEND_ROW1[3])}
      {txt(261, r2, LEGEND_ROW2[0])}
      {txt(472, r2, LEGEND_ROW2[1])}
      {txt(679, r2, LEGEND_ROW2[2])}
      {txt(834, r2, LEGEND_ROW2[3])}
      <svg style={{ position: 'absolute', left: 645 - bx, top: r1 - 8 - by }} width={16} height={16}>
        <circle cx={8} cy={8} r={5.2} fill="#fff" stroke="#000" strokeWidth={2} />
      </svg>
      <svg style={{ position: 'absolute', left: 651 - bx, top: r2 - 8 - by }} width={16} height={16}>
        <polygon points={starPts.join(' ')} fill="#fff" stroke="#000" strokeWidth={2} strokeLinejoin="round" />
      </svg>
      <svg style={{ position: 'absolute', left: 790 - bx, top: r1 - 4 - by }} width={40} height={8}>
        <line x1={2} y1={4} x2={37} y2={4} stroke="#000" strokeWidth={3} strokeDasharray="12 5.5" />
      </svg>
      <svg style={{ position: 'absolute', left: 790 - bx, top: r2 - 4 - by }} width={40} height={8}>
        <line x1={4} y1={4} x2={36} y2={4} stroke="#000" strokeWidth={3} strokeDasharray="3 6" />
      </svg>
    </div>
  );
}

export default function App() {
  const xTitle = (cx: number) => (
    <div key={cx} style={{ position: 'absolute', left: cx, top: 1210, transform: 'translate(-50%, -50%)', fontSize: 38, lineHeight: '38px', whiteSpace: 'nowrap', color: '#000' }}>Days from explosion</div>
  );
  return (
    <div style={{ position: 'absolute', left: 0, top: 0, width: 1380, height: 1233, background: '#fff', overflow: 'hidden', fontFamily: FONT }}>
      {PANELS.map((p) => <Panel key={p.key} p={p} />)}
      {PANELS.map((p) => <YTitle key={'t' + p.key} p={p} />)}
      {xTitle((LEFT_X + MID_X) / 2)}
      {xTitle((MID_X + RIGHT_X) / 2)}
      <Legend />
    </div>
  );
}
